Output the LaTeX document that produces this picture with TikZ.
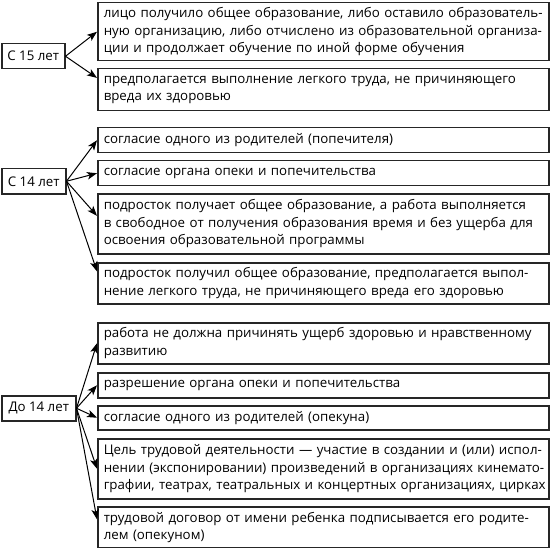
\documentclass[tikz,border=0pt]{standalone}
\usepackage{fontspec}
\setmainfont{Open Sans}
\usetikzlibrary{arrows.meta}
\newcommand\tl[1]{\mbox{#1}}
\begin{document}
\begin{tikzpicture}[x=1pt,y=-1pt,
  every node/.style={font=\fontsize{13.3}{17.5}\selectfont, text=black},
  rbox/.style={draw=black!85, line width=1.5pt, anchor=north west, minimum width=451pt,
    inner xsep=6pt, inner ysep=1pt, text width=439pt, align=left},
  lbox/.style={draw=black!85, line width=1.5pt, anchor=north west, inner sep=0pt, align=center},
  arr/.style={-{Stealth[length=10pt,width=7.5pt,inset=2.5pt]}, line width=1pt, black}]
\useasboundingbox (0,0) rectangle (551,548);

% left boxes
\node[lbox, minimum width=63pt, minimum height=25pt] (l15) at (1,43) {С 15 лет};
\node[lbox, minimum width=64pt, minimum height=25pt] (l14) at (1,168) {С 14 лет};
\node[lbox, minimum width=74pt, minimum height=25pt] (l0) at (1,395) {До 14 лет};

% right boxes
\node[rbox, minimum height=58pt] (a1) at (97,2) {\tl{лицо получило общее образование, либо оставило образователь-}\\\tl{ную организацию, либо отчислено из образовательной организа-}\\\tl{ции и продолжает обучение по иной форме обучения}};
\node[rbox, minimum height=42pt] (a2) at (97,68) {\tl{предполагается выполнение легкого труда, не причиняющего}\\\tl{вреда их здоровью}};

\node[rbox, minimum height=25pt] (b1) at (97,127) {\tl{согласие одного из родителей (попечителя)}};
\node[rbox, minimum height=25pt] (b2) at (97,160) {\tl{согласие органа опеки и попечительства}};
\node[rbox, minimum height=60pt] (b3) at (97,193) {\tl{подросток получает общее образование, а работа выполняется}\\\tl{в свободное от получения образования время и без ущерба для}\\\tl{освоения образовательной программы}};
\node[rbox, minimum height=41pt] (b4) at (97,262) {\tl{подросток получил общее образование, предполагается выпол-}\\\tl{нение легкого труда, не причиняющего вреда его здоровью}};

\node[rbox, minimum height=41pt] (c1) at (97,322) {\tl{работа не должна причинять ущерб здоровью и нравственному}\\\tl{развитию}};
\node[rbox, minimum height=25pt] (c2) at (97,372) {\tl{разрешение органа опеки и попечительства}};
\node[rbox, minimum height=24pt] (c3) at (97,405) {\tl{согласие одного из родителей (опекуна)}};
\node[rbox, minimum height=60pt] (c4) at (97,438) {\tl{Цель трудовой деятельности — участие в создании и (или) испол-}\\\tl{нении (экспонировании) произведений в организациях кинемато-}\\\tl{графии, театрах, театральных и концертных организациях, цирках}};
\node[rbox, minimum height=41pt] (c5) at (97,506) {\tl{трудовой договор от имени ребенка подписывается его родите-}\\\tl{лем (опекуном)}};

% arrows
\draw[arr] (l15.east) -- (a1.west);
\draw[arr] (l15.east) -- (a2.177.5);

\draw[arr] (l14.east) -- (b1.west);
\draw[arr] (l14.east) -- (b2.west);
\draw[arr] (l14.east) -- (b3.178.5);
\draw[arr] (l14.east) -- (b4.177.7);

\draw[arr] (l0.east) -- (c1.west);
\draw[arr] (l0.east) -- (c2.west);
\draw[arr] (l0.east) -- (c3.west);
\draw[arr] (l0.east) -- (c4.west);
\draw[arr] (l0.east) -- (c5.178);
\end{tikzpicture}
\end{document}
